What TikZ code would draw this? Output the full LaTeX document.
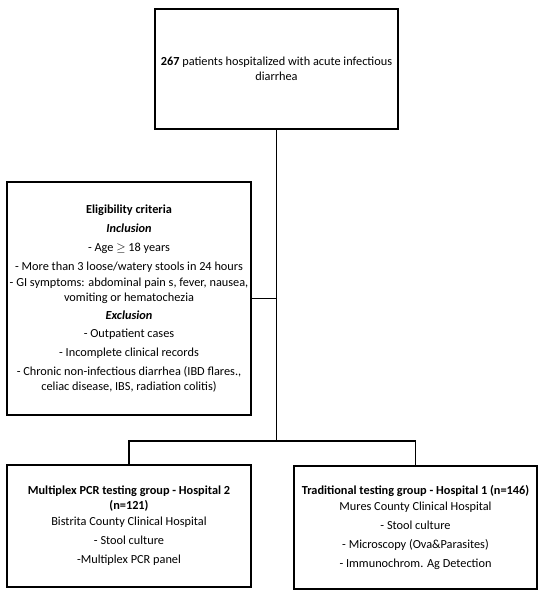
\documentclass[tikz,border=0pt]{standalone}
\usepackage{fontspec}
\setmainfont{Carlito}
\begin{document}
\begin{tikzpicture}[x=1pt,y=-1pt,
  box/.style={draw, line width=1.5pt, align=center, inner sep=0pt},
  conn/.style={line width=1.5pt},
  font=\fontsize{12.3}{15}\selectfont]
\useasboundingbox (0,0) rectangle (550,601);
\node[box, minimum width=243pt, minimum height=120pt] (top) at (276.5,69)
  {\textbf{267} patients hospitalized with acute infectious\\ diarrhea};
\node[box, minimum width=244pt, minimum height=233pt] (elig) at (129,298.5)
  {\textbf{Eligibility criteria}\\[4pt]
   \textbf{\textit{Inclusion}}\\[4pt]
   - Age $\geq$ 18 years\\[4pt]
   - More than 3 loose/watery stools in 24 hours\\[1pt]
   - GI symptoms: abdominal pain s, fever, nausea,\\ vomiting or hematochezia\\[3pt]
   \textbf{\textit{Exclusion}}\\[3pt]
   - Outpatient cases\\[4pt]
   - Incomplete clinical records\\[4pt]
   - Chronic non-infectious diarrhea (IBD flares.,\\ celiac disease, IBS, radiation colitis)};
\node[box, minimum width=244pt, minimum height=122pt] (left) at (129,526)
  {\textbf{Multiplex PCR testing group - Hospital 2}\\ \textbf{(n=121)}\\[1pt]
   Bistrita County Clinical Hospital\\[3.7pt]
   - Stool culture\\[4pt]
   -Multiplex PCR panel};
\node[box, minimum width=243pt, minimum height=123pt] (right) at (415.5,527.5)
  {\textbf{Traditional testing group - Hospital 1 (n=146)}\\[1.3pt]
   Mures County Clinical Hospital\\[3.7pt]
   - Stool culture\\[4pt]
   - Microscopy (Ova\&Parasites)\\[4pt]
   - Immunochrom. Ag Detection};
\coordinate (j) at (276.5,441);
\draw[conn] (top.south) -- (j);
\draw[conn] (elig.east) -- (elig.east -| top.south);
\draw[conn] (left.north) |- (j) -| (right.north);
\end{tikzpicture}
\end{document}
